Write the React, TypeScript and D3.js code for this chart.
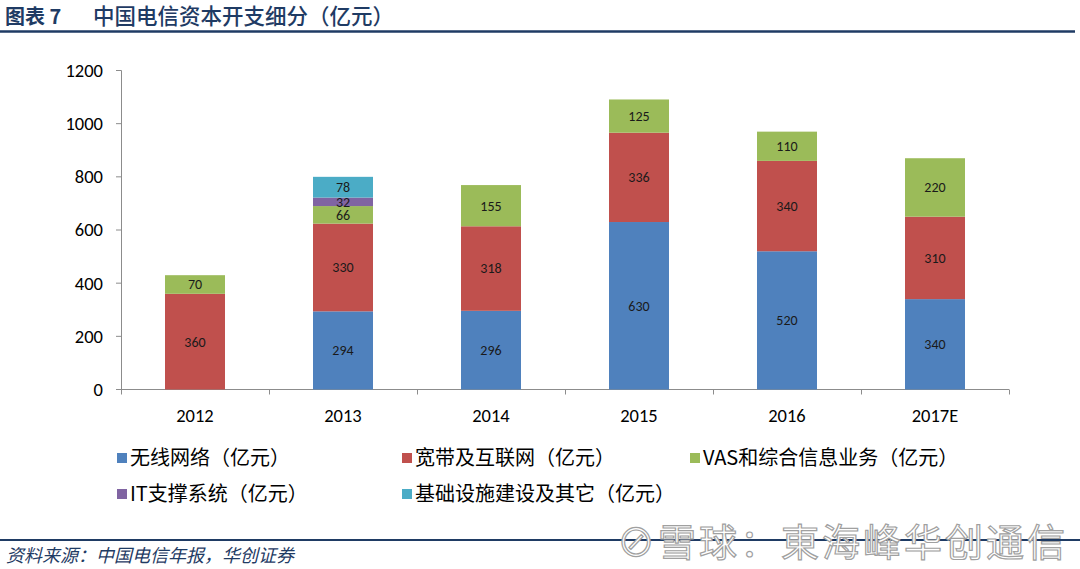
import React from "react";
import * as d3 from "d3";

const categories = ["2012", "2013", "2014", "2015", "2016", "2017E"];
const wireless = [0, 294, 296, 630, 520, 340];
const broadband = [360, 330, 318, 336, 340, 310];
const vas = [70, 66, 155, 125, 110, 220];
const itSupport = [0, 32, 0, 0, 0, 0];
const infra = [0, 78, 0, 0, 0, 0];
const yTicks = [0, 200, 400, 600, 800, 1000, 1200];

const seriesNames = [
  "无线网络（亿元）",
  "宽带及互联网（亿元）",
  "VAS和综合信息业务（亿元）",
  "IT支撑系统（亿元）",
  "基础设施建设及其它（亿元）",
];
const seriesColors = ["#4F81BD", "#C0504D", "#9BBB59", "#8064A2", "#4BACC6"];
const seriesValues = [wireless, broadband, vas, itSupport, infra];

const W = 1080;
const H = 569;
const FONT = "Carlito, 'Open Sans', 'Noto Sans CJK SC', sans-serif";
const CJK = "'Noto Sans CJK SC', sans-serif";

export default function App() {
  const x = d3.scaleBand().domain(categories).range([121, 1009]).paddingInner(88 / 148).paddingOuter(44 / 148);
  const y = d3.scaleLinear().domain([0, 1200]).range([389.5, 70.5]);

  const table = categories.map((c, i) => {
    const row: any = { cat: c };
    seriesNames.forEach((n, k) => (row[n] = seriesValues[k][i]));
    return row;
  });
  const stack = d3.stack<any>().keys(seriesNames)(table);

  const legendPos = [
    [117, 458],
    [402, 458],
    [690, 458],
    [117, 494],
    [402, 494],
  ];

  const bandStep = x.step();

  return (
    <svg width={W} height={H} style={{ position: "absolute", left: 0, top: 0, background: "#fff" }}>
      <rect x={0} y={0} width={W} height={H} fill="#fff" />
      {/* Title */}
      <text x={5} y={24} fontFamily={CJK} fontSize={20} fontWeight="bold" fill="#1F3B64">
        图表 7
      </text>
      <text x={93} y={24} fontFamily={CJK} fontSize={21.5} fontWeight={500} fill="#1F3B64">
        中国电信资本开支细分（亿元）
      </text>
      <line x1={0} x2={1075} y1={31.5} y2={31.5} stroke="#1F3B64" strokeWidth={2.5} />

      {/* Y axis */}
      <line x1={121.5} x2={121.5} y1={y(1200)} y2={y(0)} stroke="#8C8C8C" strokeWidth={1} />
      {yTicks.map((t) => (
        <g key={t}>
          <line x1={116} x2={121.5} y1={y(t)} y2={y(t)} stroke="#8C8C8C" strokeWidth={1} />
          <text x={103} y={y(t)} dy="0.35em" textAnchor="end" fontFamily={FONT} fontSize={18.5} fill="#000">
            {t}
          </text>
        </g>
      ))}

      {/* X axis */}
      <line x1={121} x2={1009} y1={y(0)} y2={y(0)} stroke="#8C8C8C" strokeWidth={1} />
      {d3.range(categories.length + 1).map((i) => (
        <line key={i} x1={121.5 + i * bandStep} x2={121.5 + i * bandStep} y1={y(0)} y2={y(0) + 5} stroke="#8C8C8C" />
      ))}
      {categories.map((c) => (
        <text key={c} x={x(c)! + x.bandwidth() / 2} y={422} textAnchor="middle" fontFamily={FONT} fontSize={18.5} fill="#000">
          {c}
        </text>
      ))}

      {/* Bars */}
      {stack.map((layer, k) => (
        <g key={k}>
          {layer.map((d, i) => {
            const v = d[1] - d[0];
            if (v <= 0) return null;
            const x0 = x(categories[i])!;
            return (
              <g key={i}>
                <rect x={x0} y={y(d[1])} width={x.bandwidth()} height={y(d[0]) - y(d[1])} fill={seriesColors[k]} />
                <text
                  x={x0 + x.bandwidth() / 2}
                  y={(y(d[0]) + y(d[1])) / 2}
                  dy="0.35em"
                  textAnchor="middle"
                  fontFamily={FONT}
                  fontSize={14}
                  fill="#1a1a1a"
                >
                  {v}
                </text>
              </g>
            );
          })}
        </g>
      ))}

      {/* Legend */}
      {seriesNames.map((n, k) => (
        <g key={n}>
          <rect x={legendPos[k][0]} y={legendPos[k][1] - 5} width={10} height={10} fill={seriesColors[k]} />
          <text x={legendPos[k][0] + 13} y={legendPos[k][1]} dy="0.35em" fontFamily={CJK} fontSize={20} fill="#000">
            {n}
          </text>
        </g>
      ))}

      {/* Footer */}
      <line x1={0} x2={1080} y1={540} y2={540} stroke="#1F3B64" strokeWidth={2} />
      <text x={6} y={562} fontFamily={CJK} fontSize={18} fontStyle="italic" fill="#1F3B64">
        资料来源：中国电信年报，华创证券
      </text>
      <text x={617} y={556} fontFamily={CJK} fontSize={38} letterSpacing={3} fill="#fff" stroke="#a0a0a0" strokeWidth={1.2}>
        ⊘雪球：東海峰华创通信
      </text>
    </svg>
  );
}
